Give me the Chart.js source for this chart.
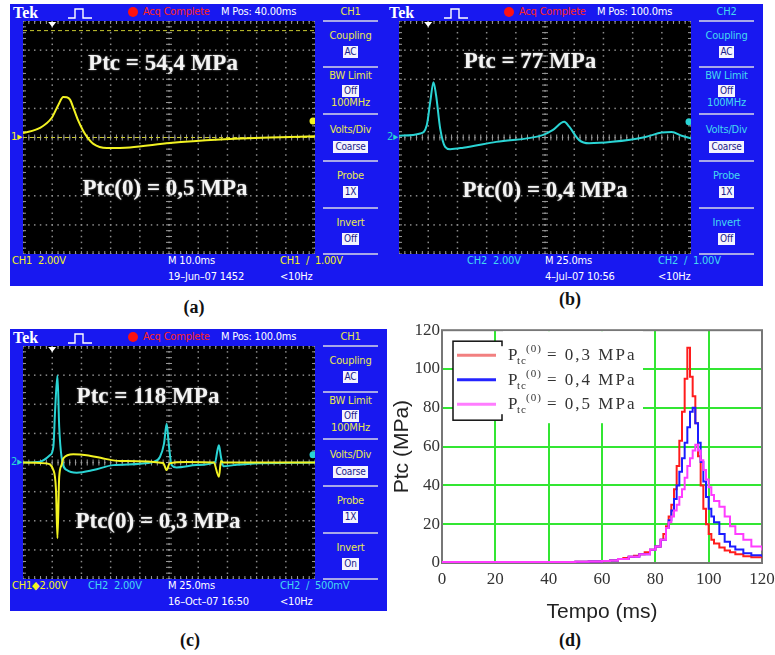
<!DOCTYPE html>
<html lang="pt">
<head>
<meta charset="utf-8">
<title>Ptc - osciloscopio e simulacao</title>
<script src="https://cdn.jsdelivr.net/npm/chart.js@4.4.1/dist/chart.umd.min.js"></script>
<style>
  html, body { margin: 0; padding: 0; }
  body { width: 775px; height: 655px; position: relative; overflow: hidden; background: #fff; }
  .scope { position: absolute; width: 377px; height: 282px; background: #1818f0;
           font-family: 'Liberation Sans Narrow', 'DejaVu Sans Condensed', sans-serif; font-size: 11px; color: #fff; }
  .scope .t { position: absolute; white-space: nowrap; line-height: 14px; letter-spacing: -0.2px; }
  .scope .tek { left: 3px; top: 0px; font: bold 16px 'Liberation Serif', serif; line-height: 17px; letter-spacing: 0; }
  .scope .pulse { position: absolute; left: 58px; top: 3px; }
  .scope .led { position: absolute; left: 118px; top: 3px; width: 10px; height: 10px; border-radius: 50%; background: #ff1010; }
  .scope .screen { position: absolute; left: 13px; top: 17px; width: 292px; height: 233px; background: #000; }
  .scope .menu { position: absolute; left: 313px; top: 0; width: 55px; height: 282px; }
  .scope .menu .t { left: 0; width: 55px; text-align: center; }
  .scope .sep { position: absolute; left: 0; width: 55px; height: 2px; background: #a8a8e8; }
  .scope .box { display: inline-block; background: #f4f4ff; color: #1a1a8a; padding: 0 2px; line-height: 12px; font-size: 10px; }
  .scope .chmark { position: absolute; left: 1px; font-size: 11px; }
  .note { position: absolute; transform: translate(-50%, -50%); white-space: nowrap;
          font: bold 23px 'Liberation Serif', serif; color: #f4f4f4; text-shadow: 0 0 2px #999; }
  .lbl { position: absolute; transform: translate(-50%, -50%); font: bold 18px 'Liberation Serif', serif; color: #111; }
  #plotD { position: absolute; left: 390px; top: 318px; width: 400px; height: 307px; }
</style>
</head>
<body>

<div id="plotD"><canvas id="chartD"></canvas></div>

<script>
// --- scope traces, x in divisions (0..10), y in divisions (-4..4) ---
const scopeA_x = [0, 0.58, 0.98, 1.2, 1.38, 1.5, 1.61, 1.75, 1.9, 2.05, 2.18, 2.41, 2.87, 3.66, 5.03, 6.75, 8.46, 10];
const scopeA_y = [0.15, 0.33, 0.67, 1.1, 1.39, 1.38, 1.3, 0.95, 0.56, 0.25, 0.04, -0.22, -0.36, -0.34, -0.19, -0.07, 0.0, 0.04];

const scopeB_x = [0, 0.73, 0.95, 1.07, 1.18, 1.27, 1.41, 1.58, 1.75, 2.2, 3.33, 4.92, 5.26, 5.66, 5.83, 6.17, 6.51, 7.3, 8.44, 9.0, 9.34, 9.68, 10];
const scopeB_y = [0.06, 0.14, 0.42, 1.22, 1.9, 1.45, 0.31, -0.32, -0.4, -0.35, -0.15, 0.08, 0.25, 0.54, 0.37, -0.09, -0.2, -0.15, 0.02, 0.17, 0.19, 0.06, -0.03];

const scopeC2_x = [0, 0.58, 0.92, 1.04, 1.1, 1.18, 1.24, 1.32, 1.5, 1.84, 2.41, 3.09, 4.46, 4.69, 4.83, 4.92, 4.99, 5.09, 5.26, 5.95, 6.58, 6.66, 6.71, 6.78, 6.86, 7.22, 7.79, 10];
const scopeC2_y = [0, 0.03, 0.25, 0.54, 1.79, 2.99, 1.22, 0.19, -0.26, -0.35, -0.26, -0.09, 0.02, 0.19, 0.65, 1.33, 0.65, -0.09, -0.17, -0.09, 0.02, 0.42, 0.59, 0.19, -0.13, -0.09, -0.04, 0];

const scopeC1_x = [0, 0.8, 1.04, 1.13, 1.18, 1.24, 1.32, 1.38, 1.72, 2.18, 2.75, 3.32, 4.8, 4.92, 5.02, 5.6, 6.53, 6.71, 6.78, 6.86, 10];
const scopeC1_y = [0, -0.03, -0.26, -0.95, -2.6, -0.49, -0.09, 0.14, 0.28, 0.25, 0.14, 0.05, -0.02, -0.26, -0.03, 0.02, 0, -0.49, 0.05, 0, 0];

const cursorsA = [3.67, 0];

// --- panel (d): Ptc (MPa) vs tempo (ms) ---
const tempoR = [0, 10, 20, 30, 40, 50, 55, 60, 63, 66, 68, 70, 72, 74, 76, 78, 80, 82, 83, 84, 85, 86, 87, 88, 89, 90, 91, 92, 93, 94, 95, 96, 97, 98, 99, 100, 101, 102, 104, 106, 108, 110, 113, 116, 120];
const ptcR   = [0.5, 0.5, 0.5, 0.5, 0.5, 0.6, 0.8, 1.0, 1.3, 2, 2.6, 3.2, 3.8, 4.5, 5.5, 6.8, 8.5, 12, 15, 19, 24, 30, 38, 50, 63, 78, 95, 111, 96, 86, 72, 55, 40, 28, 20, 15, 12, 10, 8, 6.5, 5.5, 4.5, 3.5, 3, 2.5];

const tempoB = [0, 10, 20, 30, 40, 50, 55, 60, 63, 66, 70, 74, 78, 80, 82, 84, 85, 86, 87, 88, 89, 90, 91, 92, 93, 94, 95, 96, 97, 98, 99, 100, 101, 102, 104, 106, 108, 110, 113, 116, 120];
const ptcB   = [0.5, 0.5, 0.5, 0.5, 0.5, 0.6, 0.8, 1.0, 1.3, 2, 3.2, 4.5, 6.8, 8.5, 12, 18, 22, 27, 33, 40, 47, 54, 62, 70, 78, 80, 72, 62, 52, 42, 34, 28, 24, 21, 15, 11, 8.5, 7, 5, 4, 3.2];

const tempoM = [0, 10, 20, 30, 40, 50, 55, 60, 63, 66, 70, 74, 78, 80, 82, 84, 85, 86, 87, 88, 89, 90, 91, 92, 93, 94, 95, 96, 97, 98, 99, 100, 101, 102, 104, 106, 108, 110, 113, 116, 120];
const ptcM   = [0.5, 0.5, 0.5, 0.5, 0.5, 0.6, 0.8, 1.0, 1.3, 2, 3.2, 4.5, 6.8, 8.5, 12, 18, 21, 24, 27, 30, 34, 38, 44, 50, 54, 58, 61, 58, 53, 48, 43, 39, 35, 32, 29, 24, 19, 15, 12, 8.5, 6.5, 5];

const legendTexts = ['0,3 MPa', '0,4 MPa', '0,5 MPa'];
const axisTicksD = [0, 20, 40, 60, 80, 100, 120];

const YEL = '#f2f222', CYN = '#2ad4d4';

// --- oscilloscope grid / markers ---
const scopeGrid = {
    id: 'scopeGrid',
    beforeDatasetsDraw(chart, args, opts) {
        const { ctx, scales: { x, y } } = chart;
        ctx.save();
        ctx.fillStyle = '#8c8c8c';
        // dotted grid lines
        for (let i = 0; i <= 10; i++) {
            const px = x.getPixelForValue(i);
            for (let k = 0; k <= 40; k++) {
                ctx.fillRect(px - 0.7, y.getPixelForValue(-4 + k * 0.2) - 0.7, 1.5, 1.5);
            }
        }
        for (let j = -4; j <= 4; j++) {
            const py = y.getPixelForValue(j);
            for (let k = 0; k <= 50; k++) {
                ctx.fillRect(x.getPixelForValue(k * 0.2) - 0.7, py - 0.7, 1.5, 1.5);
            }
        }
        // small ticks on centre lines and edges
        ctx.strokeStyle = '#9a9a9a';
        ctx.lineWidth = 1;
        ctx.beginPath();
        const cx = x.getPixelForValue(5), cy = y.getPixelForValue(0);
        for (let k = 0; k <= 50; k++) {
            const px = x.getPixelForValue(k * 0.2);
            ctx.moveTo(px, cy - 3); ctx.lineTo(px, cy + 3);
            ctx.moveTo(px, y.top); ctx.lineTo(px, y.top + 3);
            ctx.moveTo(px, y.bottom); ctx.lineTo(px, y.bottom - 3);
        }
        for (let k = 0; k <= 40; k++) {
            const py = y.getPixelForValue(-4 + k * 0.2);
            ctx.moveTo(cx - 3, py); ctx.lineTo(cx + 3, py);
            ctx.moveTo(x.left, py); ctx.lineTo(x.left + 3, py);
            ctx.moveTo(x.right, py); ctx.lineTo(x.right - 3, py);
        }
        ctx.stroke();
        // cursors
        (opts.cursors || []).forEach(v => {
            ctx.strokeStyle = opts.cursorColor;
            ctx.setLineDash([4, 3]);
            ctx.beginPath();
            ctx.moveTo(x.left, y.getPixelForValue(v));
            ctx.lineTo(x.right, y.getPixelForValue(v));
            ctx.stroke();
        });
        ctx.setLineDash([]);
        // trigger position marker
        const tx = x.getPixelForValue(opts.trigX);
        ctx.fillStyle = '#fff';
        ctx.beginPath();
        ctx.moveTo(tx - 4, y.top + 1); ctx.lineTo(tx + 4, y.top + 1); ctx.lineTo(tx, y.top + 6);
        ctx.closePath(); ctx.fill();
        ctx.restore();
    },
    afterDatasetsDraw(chart, args, opts) {
        const { ctx, scales: { x, y } } = chart;
        ctx.save();
        ctx.fillStyle = opts.levelColor;
        ctx.beginPath();
        ctx.arc(x.right - 2, y.getPixelForValue(opts.level), 3.5, 0, Math.PI * 2);
        ctx.fill();
        ctx.restore();
    }
};

function scopeChart(canvas, traces, marks) {
    return new Chart(canvas, {
        type: 'line',
        data: {
            datasets: traces.map(t => ({
                data: t.xs.map((v, i) => ({ x: v, y: t.ys[i] })),
                borderColor: t.color,
                borderWidth: 2,
                pointRadius: 0,
                cubicInterpolationMode: 'monotone',
                fill: false
            }))
        },
        options: {
            animation: false,
            responsive: true,
            maintainAspectRatio: false,
            layout: { padding: 0 },
            events: [],
            plugins: { legend: { display: false }, tooltip: { enabled: false }, scopeGrid: marks },
            scales: {
                x: { type: 'linear', min: 0, max: 10, display: false },
                y: { min: -4, max: 4, display: false }
            }
        },
        plugins: [scopeGrid]
    });
}

function buildScope(cfg) {
    const p = document.createElement('div');
    p.className = 'scope';
    p.style.left = cfg.left + 'px';
    p.style.top = cfg.top + 'px';
    const mc = cfg.menuColor;
    const bottom = cfg.bottom.map(b =>
        `<div class="t" style="left:${b[0]}px;top:${b[1]}px;color:${b[3]}">${b[2]}</div>`).join('');
    p.innerHTML = `
      <div class="t tek">Tek</div>
      <svg class="pulse" width="24" height="12"><path d="M0 11 H7 V2 H15 V11 H24" stroke="#fff" stroke-width="1.4" fill="none"/></svg>
      <div class="led"></div>
      <div class="t" style="left:133px;top:1px;color:#ff2424">Acq Complete</div>
      <div class="t" style="left:211px;top:1px">${cfg.mpos}</div>
      <div class="screen"><canvas></canvas></div>
      <div class="chmark" style="top:126px;color:${cfg.markColor}">${cfg.mark}&#9656;</div>
      <div class="menu">
        <div class="t" style="top:1px;color:${mc}">${cfg.ch}</div>
        <div class="sep" style="top:16px"></div>
        <div class="t" style="top:25px;color:${mc}">Coupling</div>
        <div class="t" style="top:41px"><span class="box">AC</span></div>
        <div class="sep" style="top:62px"></div>
        <div class="t" style="top:65px;color:${mc}">BW Limit</div>
        <div class="t" style="top:80px"><span class="box">Off</span></div>
        <div class="t" style="top:92px;color:${mc}">100MHz</div>
        <div class="sep" style="top:109px"></div>
        <div class="t" style="top:119px;color:${mc}">Volts/Div</div>
        <div class="t" style="top:136px"><span class="box">Coarse</span></div>
        <div class="sep" style="top:156px"></div>
        <div class="t" style="top:165px;color:${mc}">Probe</div>
        <div class="t" style="top:181px"><span class="box">1X</span></div>
        <div class="sep" style="top:203px"></div>
        <div class="t" style="top:212px;color:${mc}">Invert</div>
        <div class="t" style="top:228px"><span class="box">${cfg.invert}</span></div>
        <div class="sep" style="top:249px"></div>
      </div>
      ${bottom}`;
    document.body.appendChild(p);
    scopeChart(p.querySelector('canvas'), cfg.traces, cfg.marks);
}

function addText(cls, text, x, y) {
    const d = document.createElement('div');
    d.className = cls;
    d.innerHTML = text;
    d.style.left = x + 'px';
    d.style.top = y + 'px';
    document.body.appendChild(d);
}

buildScope({
    left: 10, top: 4, mpos: 'M Pos: 40.00ms', ch: 'CH1', menuColor: '#e8e850', invert: 'Off',
    mark: '1', markColor: YEL,
    traces: [{ xs: scopeA_x, ys: scopeA_y, color: YEL }],
    marks: { trigX: 1.0, level: 0.57, levelColor: YEL, cursors: cursorsA, cursorColor: '#c8c830' },
    bottom: [[2, 250, 'CH1&nbsp; 2.00V', YEL], [158, 250, 'M 10.0ms', '#fff'], [270, 250, 'CH1 &nbsp;/&nbsp; 1.00V', YEL],
             [158, 266, '19&ndash;Jun&ndash;07 1452', '#fff'], [270, 266, '&lt;10Hz', '#fff']]
});

buildScope({
    left: 386, top: 4, mpos: 'M Pos: 100.0ms', ch: 'CH2', menuColor: '#44d8f0', invert: 'Off',
    mark: '2', markColor: CYN,
    traces: [{ xs: scopeB_x, ys: scopeB_y, color: CYN }],
    marks: { trigX: 1.0, level: 0.54, levelColor: CYN },
    bottom: [[81, 250, 'CH2&nbsp; 2.00V', '#44d8f0'], [159, 250, 'M 25.0ms', '#fff'], [272, 250, 'CH2 &nbsp;/&nbsp; 1.00V', '#44d8f0'],
             [159, 266, '4&ndash;Jul&ndash;07 10:56', '#fff'], [272, 266, '&lt;10Hz', '#fff']]
});

buildScope({
    left: 10, top: 329, mpos: 'M Pos: 100.0ms', ch: 'CH1', menuColor: '#e8e850', invert: 'On',
    mark: '2', markColor: CYN,
    traces: [{ xs: scopeC1_x, ys: scopeC1_y, color: YEL }, { xs: scopeC2_x, ys: scopeC2_y, color: CYN }],
    marks: { trigX: 1.0, level: 0.27, levelColor: CYN },
    bottom: [[2, 250, 'CH1&#9670;2.00V', YEL], [78, 250, 'CH2&nbsp; 2.00V', '#44d8f0'], [158, 250, 'M 25.0ms', '#fff'],
             [270, 250, 'CH2 &nbsp;/&nbsp; 500mV', '#44d8f0'],
             [158, 266, '16&ndash;Oct&ndash;07 16:50', '#fff'], [270, 266, '&lt;10Hz', '#fff']]
});

addText('note', 'Ptc = 54,4 MPa', 163, 63);
addText('note', 'Ptc(0) = 0,5 MPa', 165, 188);
addText('note', 'Ptc = 77 MPa', 530, 61);
addText('note', 'Ptc(0) = 0,4 MPa', 545, 190);
addText('note', 'Ptc = 118 MPa', 148, 396);
addText('note', 'Ptc(0) = 0,3 MPa', 158, 521);

addText('lbl', '(a)', 194, 307);
addText('lbl', '(b)', 570, 299);
addText('lbl', '(c)', 190, 640);
addText('lbl', '(d)', 570, 640);

// --- panel (d) frame and legend ---
const frameAndLegend = {
    id: 'frameAndLegend',
    beforeDatasetsDraw(chart) {
        const { ctx, chartArea: a } = chart;
        ctx.save();
        ctx.strokeStyle = '#777';
        ctx.lineWidth = 2;
        ctx.strokeRect(a.left, a.top, a.right - a.left, a.bottom - a.top);

        // white area behind legend text, then framed sample box
        ctx.fillStyle = '#fff';
        ctx.fillRect(a.left + 61, a.top + 1, 140, 92);
        ctx.fillRect(a.left + 11, a.top + 11, 49, 79);
        ctx.strokeStyle = '#111';
        ctx.lineWidth = 1.5;
        ctx.strokeRect(a.left + 11, a.top + 11, 49, 79);
        ctx.fillRect(a.left + 58, a.top + 16, 10, 68);

        const rows = [25, 49.5, 74];
        chart.data.datasets.forEach(ds => {
            const i = ds.legendRow;
            const yy = a.top + rows[i];
            ctx.strokeStyle = ds.legendColor;
            ctx.lineWidth = 3;
            ctx.beginPath();
            ctx.moveTo(a.left + 15, yy); ctx.lineTo(a.left + 54, yy);
            ctx.stroke();

            const base = yy + 5;
            const xx = a.left + 66;
            ctx.fillStyle = '#333';
            ctx.letterSpacing = '1px';
            ctx.font = '17px "Liberation Serif", serif';
            ctx.fillText('P', xx, base);
            ctx.font = '11px "Liberation Serif", serif';
            ctx.fillText('tc', xx + 9, base + 4);
            ctx.fillText('(0)', xx + 18, base - 8);
            ctx.font = '17px "Liberation Serif", serif';
            ctx.letterSpacing = '2px';
            ctx.fillText('= ' + legendTexts[i], xx + 39, base);
            ctx.letterSpacing = '0px';
        });
        ctx.restore();
    }
};

const tickFontD = { family: 'Liberation Serif', size: 17 };
const gridColorD = c => (c.tick.value > 0 && c.tick.value < 120) ? '#33e633' : 'rgba(0,0,0,0)';

new Chart(document.getElementById('chartD'), {
    type: 'line',
    data: {
        datasets: [
            { data: tempoM.map((t, i) => ({ x: t, y: ptcM[i] })), borderColor: '#ff3cff', legendColor: '#ff7cff', legendRow: 2 },
            { data: tempoB.map((t, i) => ({ x: t, y: ptcB[i] })), borderColor: '#1c1cff', legendColor: '#2424ff', legendRow: 1 },
            { data: tempoR.map((t, i) => ({ x: t, y: ptcR[i] })), borderColor: '#ff1c1c', legendColor: '#f28080', legendRow: 0 }
        ].map(d => Object.assign(d, { stepped: true, borderWidth: 2, pointRadius: 0, fill: false }))
    },
    options: {
        animation: false,
        responsive: true,
        maintainAspectRatio: false,
        events: [],
        layout: { padding: { top: 7, right: 28, left: 0, bottom: 0 } },
        plugins: { legend: { display: false }, tooltip: { enabled: false } },
        scales: {
            x: {
                type: 'linear', min: 0, max: 120,
                afterBuildTicks: s => { s.ticks = axisTicksD.map(v => ({ value: v })); },
                ticks: { color: '#333', font: tickFontD, padding: 6, maxRotation: 0 },
                grid: { color: gridColorD, lineWidth: 2, drawTicks: false },
                border: { display: false },
                title: { display: true, text: 'Tempo (ms)', color: '#222', font: { family: 'Liberation Sans', size: 21 }, padding: 0 },
                afterFit: s => { s.height = 62; }
            },
            y: {
                min: 0, max: 120,
                afterBuildTicks: s => { s.ticks = axisTicksD.map(v => ({ value: v })); },
                ticks: { color: '#333', font: tickFontD, padding: 2 },
                grid: { color: gridColorD, lineWidth: 2, drawTicks: false },
                border: { display: false },
                title: { display: true, text: 'Ptc (MPa)', color: '#222', font: { family: 'Liberation Sans', size: 21 }, padding: 0 },
                afterFit: s => { s.width = 52; }
            }
        }
    },
    plugins: [frameAndLegend]
});
</script>
</body>
</html>
